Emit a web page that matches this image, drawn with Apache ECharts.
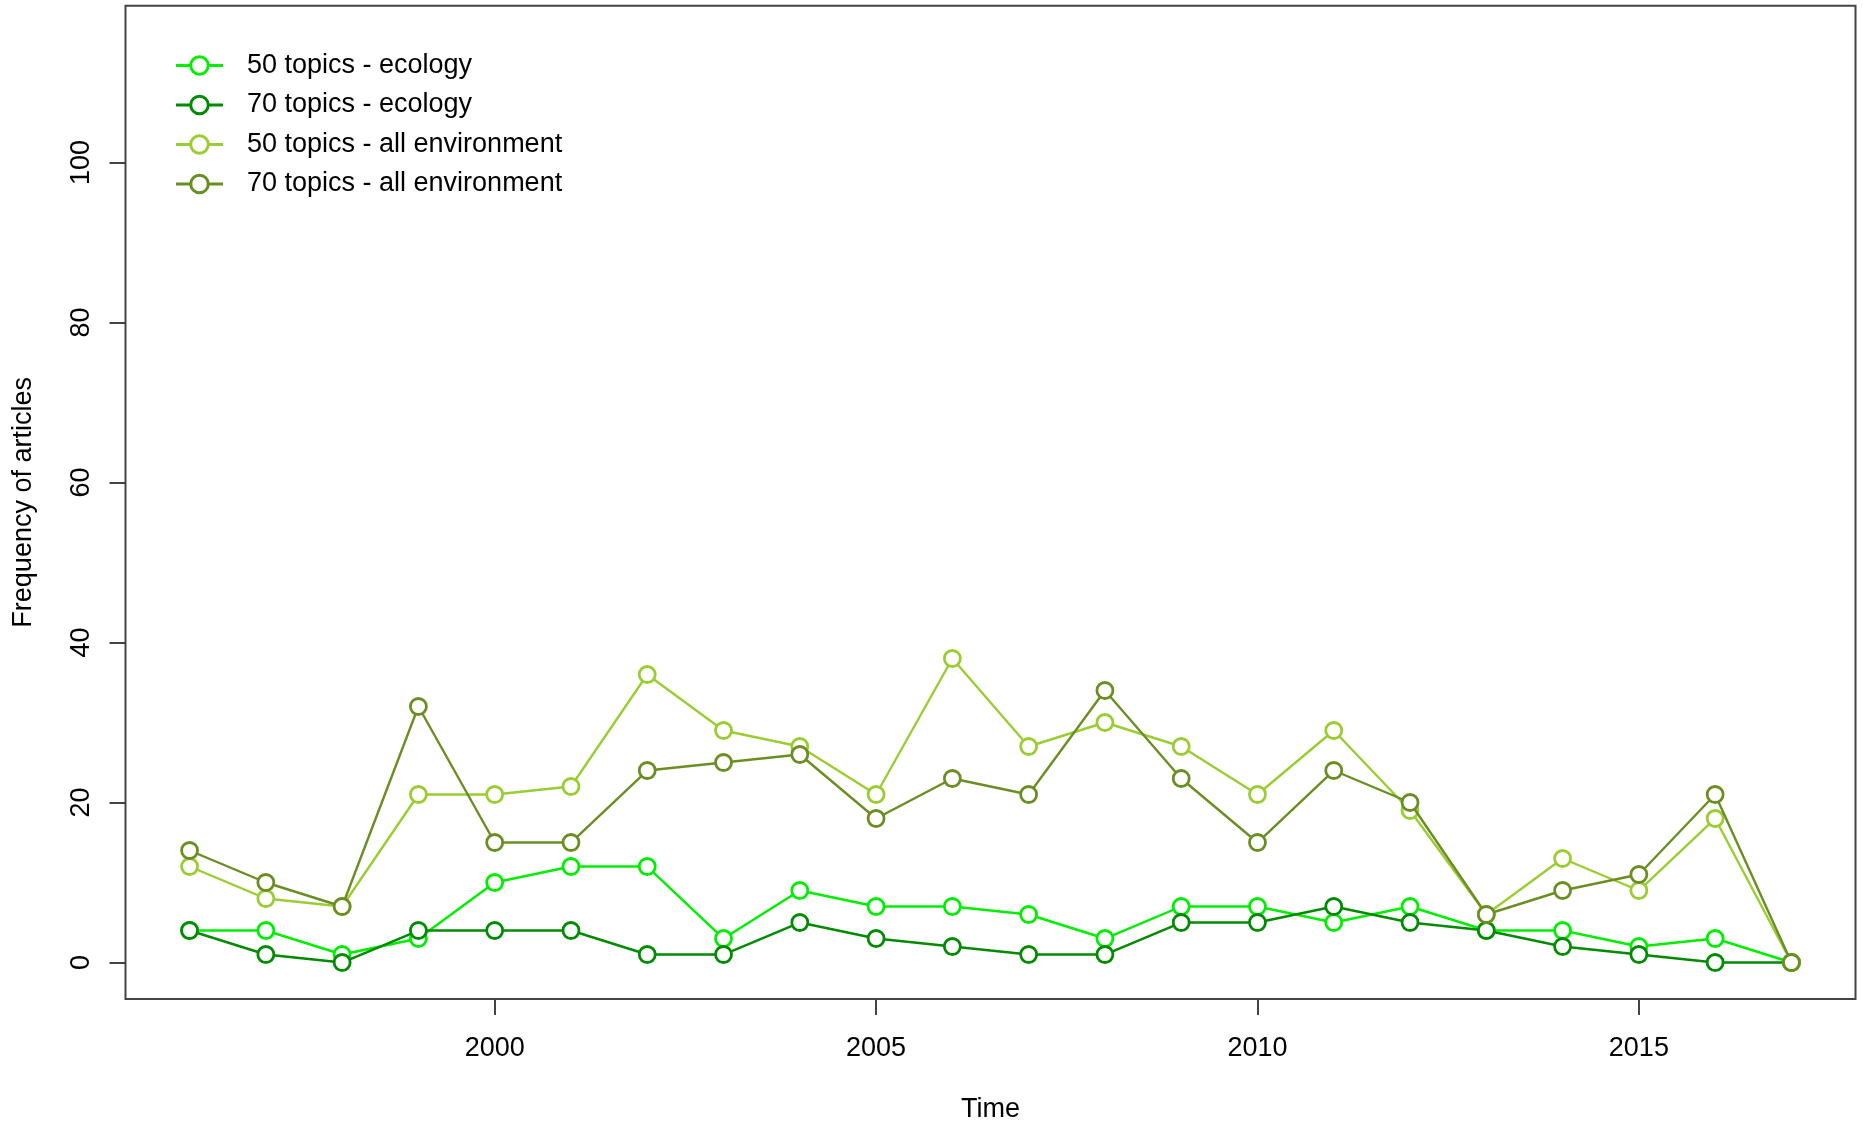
<!DOCTYPE html>
<html>
<head>
<meta charset="utf-8">
<script src="https://cdn.jsdelivr.net/npm/echarts@6/dist/echarts.min.js"></script>
<style>
html,body{margin:0;padding:0;background:#fff;}
#main{width:1863px;height:1128px;}
</style>
</head>
<body>
<div id="main"></div>
<script>
var years = [1996,1997,1998,1999,2000,2001,2002,2003,2004,2005,2006,2007,2008,2009,2010,2011,2012,2013,2014,2015,2016,2017];
var eco50 = [4,4,1,3,10,12,12,3,9,7,7,6,3,7,7,5,7,4,4,2,3,0];
var eco70 = [4,1,0,4,4,4,1,1,5,3,2,1,1,5,5,7,5,4,2,1,0,0];
var env50 = [12,8,7,21,21,22,36,29,27,21,38,27,30,27,21,29,19,6,13,9,18,0];
var env70 = [14,10,7,32,15,15,24,25,26,18,23,21,34,23,15,24,20,6,9,11,21,0];
var seriesNames = ['50 topics - ecology','70 topics - ecology','50 topics - all environment','70 topics - all environment'];
var seriesColors = ['#00EE00','#008B00','#9ACD32','#6B8E23'];
var xTicks = [2000,2005,2010,2015];
var yTicks = [0,20,40,60,80,100];

function pairs(vals){ return years.map(function(y,i){ return [y, vals[i]]; }); }
var allVals = [eco50, eco70, env50, env70];

var font = 'Liberation Sans, Arial, sans-serif';
var chart = echarts.init(document.getElementById('main'), null, {renderer:'canvas'});
var option = {
  animation: false,
  backgroundColor: '#fff',
  grid: {left: 125.5, right: 7.5, top: 5.7, bottom: 124.7, show: true, borderColor: '#444', borderWidth: 2, backgroundColor: 'transparent'},
  legend: {
    orient: 'vertical', left: 174.5, top: 52, padding: 0, itemWidth: 47, itemHeight: 22, itemGap: 12.5,
    data: seriesNames,
    itemStyle: {borderWidth: 3},
    lineStyle: {width: 3},
    textStyle: {fontFamily: font, fontSize: 27, color: '#000', padding: [0,0,0,19]}
  },
  xAxis: {
    type: 'value', min: 1995.16, max: 2017.84,
    name: 'Time', nameLocation: 'middle', nameGap: 97,
    nameTextStyle: {fontFamily: font, fontSize: 27, color: '#000'},
    axisLine: {show: false, onZero: false},
    axisTick: {show: true, length: 16, inside: false, customValues: xTicks, lineStyle: {color: '#444', width: 2}},
    axisLabel: {customValues: xTicks, margin: 36, fontFamily: font, fontSize: 27, color: '#000',
      formatter: function(v){ return String(v); }},
    splitLine: {show: false}
  },
  yAxis: {
    type: 'value', min: -4.56, max: 119.6,
    name: 'Frequency of articles', nameLocation: 'middle', nameGap: 88, nameRotate: 90,
    nameTextStyle: {fontFamily: font, fontSize: 27, color: '#000'},
    axisLine: {show: false, onZero: false},
    axisTick: {show: true, length: 16, inside: false, customValues: yTicks, lineStyle: {color: '#444', width: 2}},
    axisLabel: {customValues: yTicks, rotate: 90, margin: 30, fontFamily: font, fontSize: 27, color: '#000',
      formatter: function(v){ return String(v); }},
    splitLine: {show: false}
  },
  series: seriesNames.map(function(n, k){
    return {
      name: n, type: 'line', data: pairs(allVals[k]),
      symbol: 'circle', symbolSize: 16,
      itemStyle: {color: '#fff', borderColor: seriesColors[k], borderWidth: 2.8},
      lineStyle: {color: seriesColors[k], width: 2.4},
      z: 2 + k
    };
  })
};
chart.setOption(option);
</script>
</body>
</html>
